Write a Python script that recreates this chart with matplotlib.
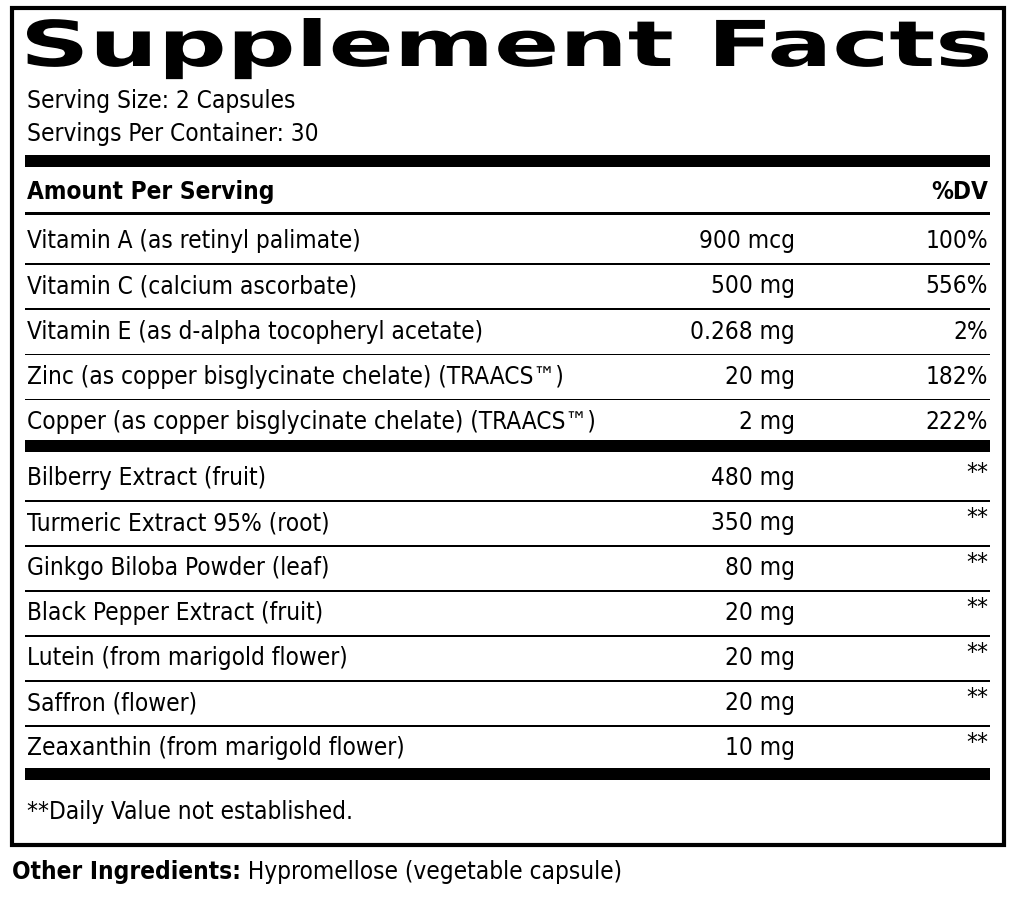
import matplotlib
matplotlib.use("Agg")
import matplotlib.pyplot as plt
from matplotlib.patches import Rectangle, PathPatch
from matplotlib.textpath import TextPath
from matplotlib.font_manager import FontProperties
from matplotlib.transforms import Affine2D

title = "Supplement Facts"
serving = ["Serving Size: 2 Capsules", "Servings Per Container: 30"]
group1_names = ["Vitamin A (as retinyl palimate)", "Vitamin C (calcium ascorbate)",
                "Vitamin E (as d-alpha tocopheryl acetate)",
                "Zinc (as copper bisglycinate chelate) (TRAACS™)",
                "Copper (as copper bisglycinate chelate) (TRAACS™)"]
group1_amounts = ["900 mcg", "500 mg", "0.268 mg", "20 mg", "2 mg"]
group1_dv = ["100%", "556%", "2%", "182%", "222%"]
group2_names = ["Bilberry Extract (fruit)", "Turmeric Extract 95% (root)",
                "Ginkgo Biloba Powder (leaf)", "Black Pepper Extract (fruit)",
                "Lutein (from marigold flower)", "Saffron (flower)",
                "Zeaxanthin (from marigold flower)"]
group2_amounts = ["480 mg", "350 mg", "80 mg", "20 mg", "20 mg", "20 mg", "10 mg"]
group2_dv = ["**"] * 7

FAM = ["DejaVu Sans"]
fig = plt.figure(figsize=(10.14, 8.98), dpi=100)
ax = fig.add_axes([0, 0, 1, 1])
ax.set_xlim(0, 1014); ax.set_ylim(898, 0); ax.axis("off")
FS = 17.5

def t(x, y, s, ha="left", w="normal", fs=FS):
    return ax.text(x, y, s, ha=ha, va="center", fontsize=fs, fontweight=w,
                   family=FAM, fontstretch="condensed")

ax.add_patch(Rectangle((12, 8), 992, 837, fill=False, lw=3, ec="black"))

# Title as a stretched text path to fill the width
tp = TextPath((0, 0), title, size=10, prop=FontProperties(family="DejaVu Sans", weight="black"))
bb = tp.get_extents()
sx = (988 - 27) / bb.width
sy = (68 - 20) / (bb.y1 - 0)
tr = Affine2D().translate(-bb.x0, 0).scale(sx, -sy).translate(27, 66)
ax.add_patch(PathPatch(tr.transform_path(tp), color="black", lw=0))

t(27, 101, serving[0]); t(27, 134, serving[1])

def bar(y, h):
    ax.add_patch(Rectangle((25, y), 965, h, color="black", lw=0))

bar(155, 12)
t(27, 192, "Amount Per Serving", w="bold"); t(988, 192, "%DV", ha="right", w="bold")
bar(212, 3)
y = 241
for i, (n, a, d) in enumerate(zip(group1_names, group1_amounts, group1_dv)):
    t(27, y, n); t(795, y, a, ha="right"); t(988, y, d, ha="right")
    if i < len(group1_names) - 1:
        bar(y + 22, 1.5)
    y += 45.3
bar(440, 12)
y = 478
for i, (n, a, d) in enumerate(zip(group2_names, group2_amounts, group2_dv)):
    t(27, y, n); t(795, y, a, ha="right"); t(988, y - 5, d, ha="right")
    if i < len(group2_names) - 1:
        bar(y + 22, 1.5)
    y += 45
bar(768, 12)
t(27, 812, "**Daily Value not established.")
lab = t(12, 872, "Other Ingredients:", w="bold")
ax.annotate(" Hypromellose (vegetable capsule)", xy=(1, 0.5), xycoords=lab,
            ha="left", va="center", fontsize=FS, family=FAM, fontstretch="condensed")
fig.savefig("out.png", dpi=100)
